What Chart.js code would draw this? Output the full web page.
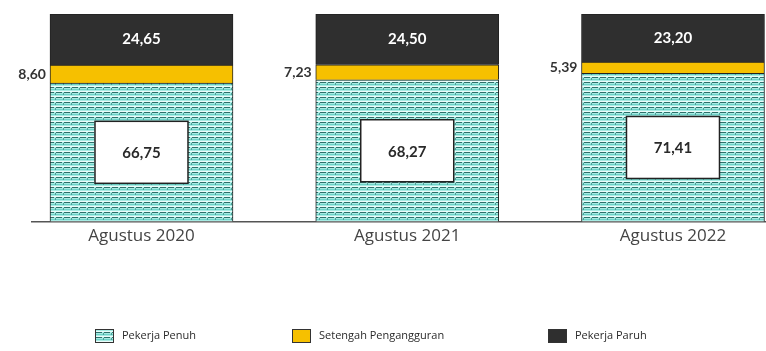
<!DOCTYPE html>
<html>
<head>
<meta charset="utf-8">
<script src="https://cdn.jsdelivr.net/npm/chart.js@4.4.1/dist/chart.umd.min.js"></script>
<style>
  html, body { margin: 0; padding: 0; background: #ffffff; overflow: hidden; }
  #wrap { position: relative; width: 766px; height: 351px; }
</style>
</head>
<body>
<div id="wrap"><canvas id="c" width="766" height="351"></canvas></div>
<script>
// ---- data ----
const categories = ['Agustus 2020', 'Agustus 2021', 'Agustus 2022'];
const seriesNames = ['Pekerja Penuh', 'Setengah Pengangguran', 'Pekerja Paruh'];
const pekerjaPenuh = [66.75, 68.27, 71.41];
const setengahPengangguran = [8.60, 7.23, 5.39];
const pekerjaParuh = [24.65, 24.50, 23.20];

// ---- pattern for "Pekerja Penuh" ----
function makePattern() {
  const t = document.createElement('canvas');
  t.width = 8; t.height = 5;
  const g = t.getContext('2d');
  g.fillStyle = '#a6ebe3';
  g.fillRect(0, 0, 8, 5);
  g.fillStyle = '#ecfcfa';
  g.fillRect(0, 1, 8, 1);
  g.fillStyle = '#2f6f6a';
  g.fillRect(0, 2, 6, 1);
  g.fillStyle = '#4f9e97';
  g.fillRect(7, 3, 1, 2);
  g.fillStyle = '#6fd3c8';
  g.fillRect(0, 4, 7, 1);
  return t.getContext('2d').createPattern(t, 'repeat');
}
const penuhPattern = makePattern();

const toPoints = arr => arr.map((v, i) => ({ x: i, y: v }));

const labelPlugin = {
  id: 'segLabels',
  afterDatasetsDraw(chart) {
    const ctx = chart.ctx;
    const fmt = v => v.toFixed(2).replace('.', ',');
    ctx.save();
    chart.data.datasets.forEach((ds, di) => {
      const meta = chart.getDatasetMeta(di);
      meta.data.forEach((el, i) => {
        const v = ds.data[i].y;
        const top = Math.min(el.y, el.base), bot = Math.max(el.y, el.base);
        const cy = (top + bot) / 2;
        const half = el.width / 2;
        if (di === 0) {
          const bw = 93, bh = 62;
          ctx.fillStyle = '#ffffff';
          ctx.fillRect(el.x - bw / 2, cy - bh / 2, bw, bh);
          ctx.strokeStyle = '#222222';
          ctx.lineWidth = 1.5;
          ctx.strokeRect(el.x - bw / 2, cy - bh / 2, bw, bh);
          ctx.fillStyle = '#2a2a2a';
          ctx.font = 'bold 15px Lato, "Open Sans", sans-serif';
          ctx.textAlign = 'center';
          ctx.textBaseline = 'middle';
          ctx.fillText(fmt(v), el.x, cy + 1);
        } else if (di === 1) {
          ctx.fillStyle = '#333333';
          ctx.font = 'bold 14px Lato, "Open Sans", sans-serif';
          ctx.textAlign = 'right';
          ctx.textBaseline = 'middle';
          ctx.fillText(fmt(v), el.x - half - 4, cy);
        } else {
          ctx.fillStyle = '#ffffff';
          ctx.font = 'bold 15px Lato, "Open Sans", sans-serif';
          ctx.textAlign = 'center';
          ctx.textBaseline = 'middle';
          ctx.fillText(fmt(v), el.x, cy);
        }
      });
    });
    ctx.restore();
  }
};

const legendPlugin = {
  id: 'customLegend',
  afterDraw(chart, args, opts) {
    const ctx = chart.ctx;
    ctx.save();
    chart.data.datasets.forEach((ds, di) => {
      const x = opts.xs[di], y = opts.y;
      ctx.fillStyle = ds.backgroundColor;
      ctx.fillRect(x, y - 7, 19, 14);
      ctx.strokeStyle = '#333333';
      ctx.lineWidth = 1;
      ctx.strokeRect(x + 0.5, y - 6.5, 18, 13);
      ctx.fillStyle = '#2a2a2a';
      ctx.font = '11px "Open Sans", Lato, sans-serif';
      ctx.textAlign = 'left';
      ctx.textBaseline = 'middle';
      ctx.fillText(ds.label, x + 27, y);
    });
    ctx.restore();
  }
};

const barCommon = { borderColor: '#222222', borderWidth: 1, barThickness: 183 };

new Chart(document.getElementById('c'), {
  type: 'bar',
  data: {
    datasets: [
      Object.assign({ label: seriesNames[0], data: toPoints(pekerjaPenuh), backgroundColor: penuhPattern }, barCommon),
      Object.assign({ label: seriesNames[1], data: toPoints(setengahPengangguran), backgroundColor: '#f6c000' }, barCommon),
      Object.assign({ label: seriesNames[2], data: toPoints(pekerjaParuh), backgroundColor: '#2f2f2f' }, barCommon)
    ]
  },
  plugins: [labelPlugin, legendPlugin],
  options: {
    responsive: false,
    animation: false,
    layout: { padding: { left: 32, right: 0, top: 14, bottom: 101 } },
    plugins: {
      legend: { display: false },
      tooltip: { enabled: false },
      customLegend: { xs: [95, 292, 548], y: 336 }
    },
    scales: {
      x: {
        type: 'linear',
        stacked: true,
        offset: false,
        bounds: 'ticks',
        min: -0.412,
        max: 2.35,
        afterBuildTicks: axis => { axis.ticks = categories.map((c, i) => ({ value: i })); },
        ticks: {
          callback: v => categories[v],
          color: '#444444',
          font: { size: 17, family: '"Open Sans", Lato, sans-serif' },
          padding: 4,
          autoSkip: false,
          maxRotation: 0
        },
        grid: { display: false, drawTicks: false },
        border: { display: true, color: '#555555', width: 1.5 }
      },
      y: {
        stacked: true,
        display: false,
        min: 0,
        max: 100
      }
    }
  }
});
</script>
</body>
</html>
